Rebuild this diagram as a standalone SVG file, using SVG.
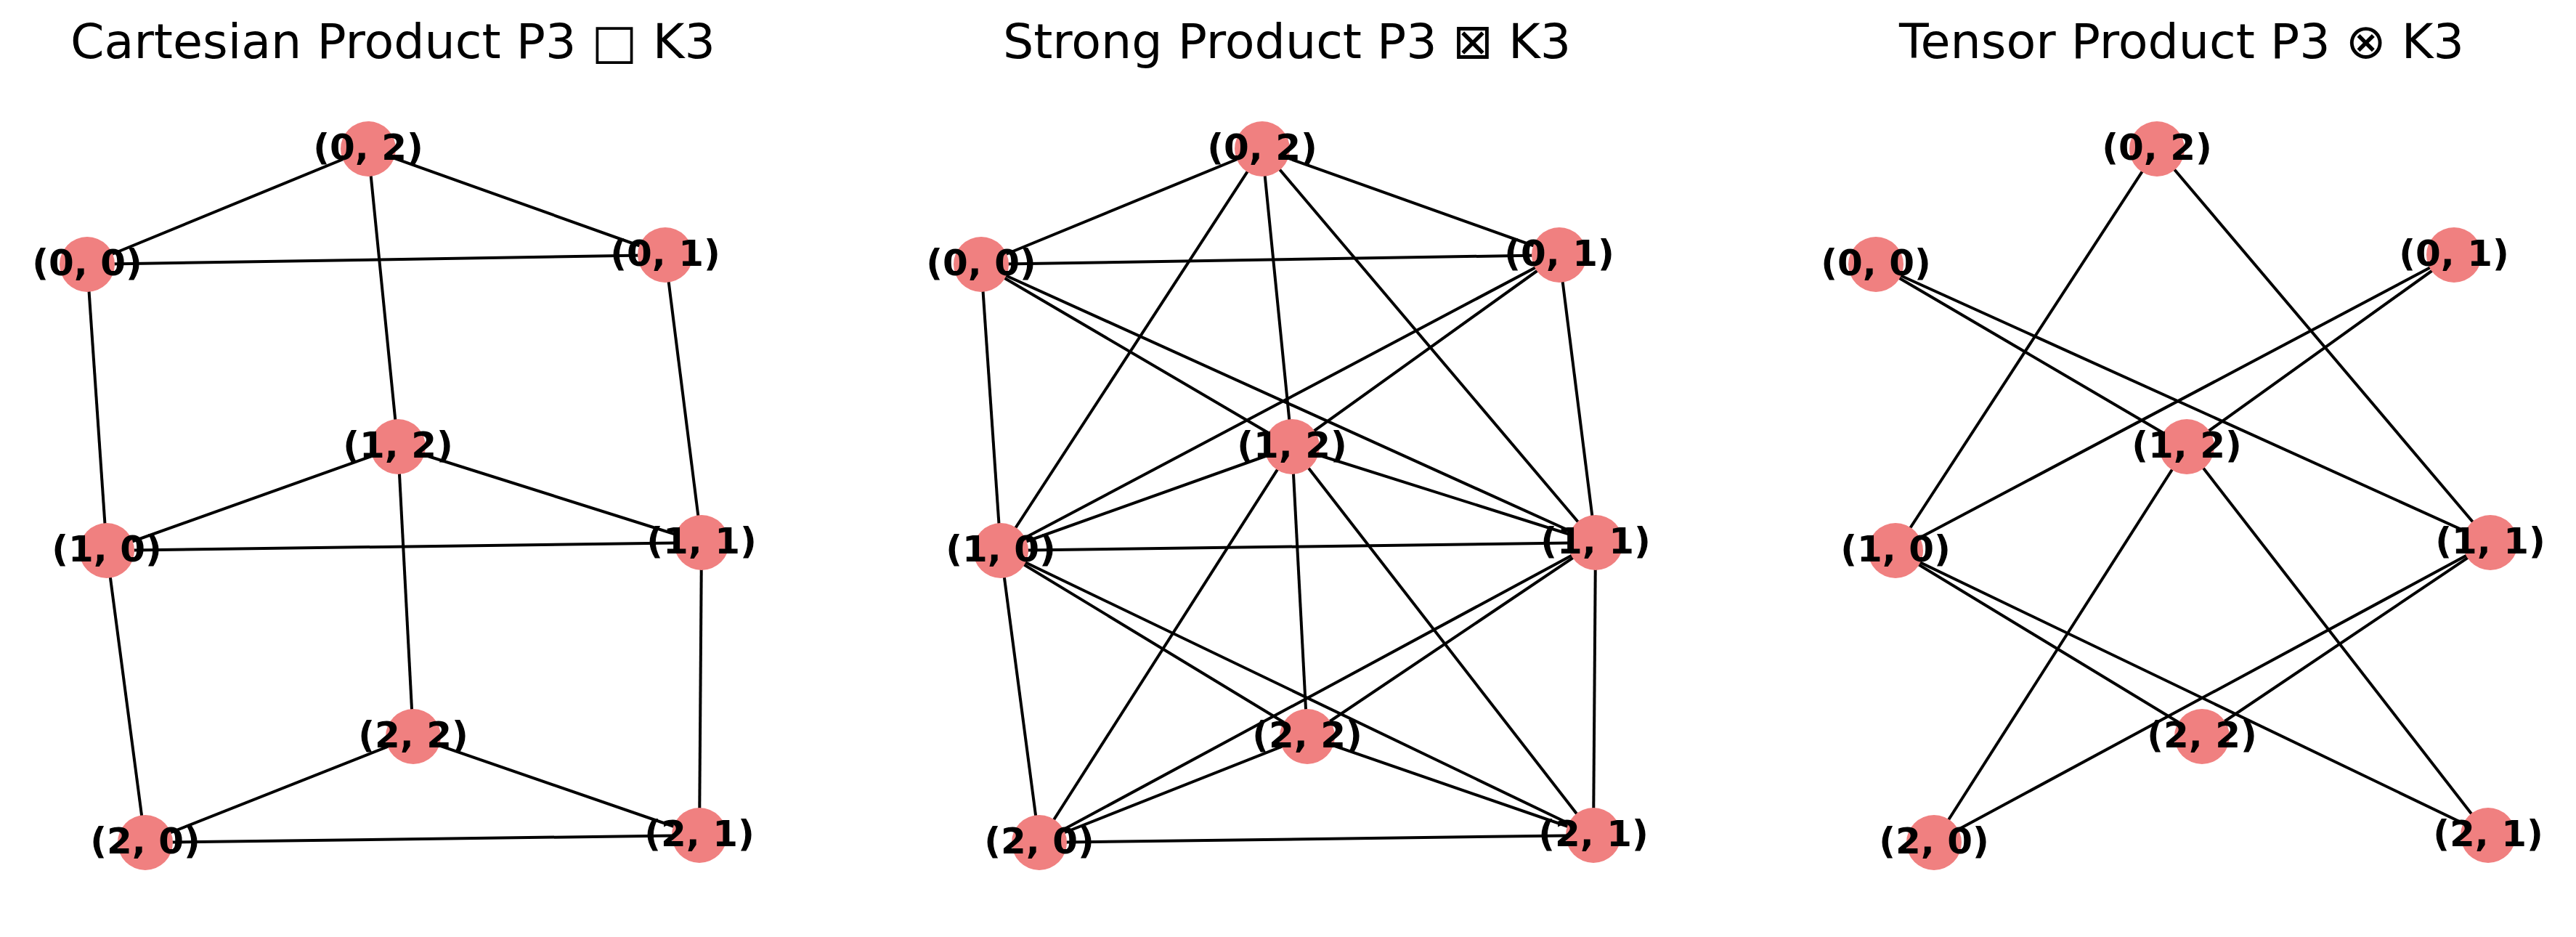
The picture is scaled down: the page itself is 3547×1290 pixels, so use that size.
<svg xmlns="http://www.w3.org/2000/svg" width="3547" height="1290" viewBox="0 0 3547 1290">
<style>
.bg{fill:#fff}
.e{stroke:#000;stroke-width:4;stroke-linecap:butt}
.n circle{fill:#F08080}
.n text{font-family:"DejaVu Sans",sans-serif;font-weight:bold;font-size:50px;text-anchor:middle;fill:#000}
.t{font-family:"DejaVu Sans",sans-serif;font-size:66.67px;text-anchor:middle;fill:#000}
</style>
<rect class="bg" x="0" y="0" width="3547" height="1290"/>

<!-- Panel 1: Cartesian -->
<g id="cartesian">
<text class="t" x="541" y="80">Cartesian Product P3 □ K3</text>
<g id="cartesian-edges">
<line class="e" x1="120" y1="364" x2="916" y2="351"/>
<line class="e" x1="120" y1="364" x2="507" y2="205"/>
<line class="e" x1="916" y1="351" x2="507" y2="205"/>
<line class="e" x1="147" y1="758" x2="966" y2="747"/>
<line class="e" x1="147" y1="758" x2="548" y2="615"/>
<line class="e" x1="966" y1="747" x2="548" y2="615"/>
<line class="e" x1="200" y1="1160" x2="963" y2="1150"/>
<line class="e" x1="200" y1="1160" x2="569" y2="1014"/>
<line class="e" x1="963" y1="1150" x2="569" y2="1014"/>
<line class="e" x1="120" y1="364" x2="147" y2="758"/>
<line class="e" x1="916" y1="351" x2="966" y2="747"/>
<line class="e" x1="507" y1="205" x2="548" y2="615"/>
<line class="e" x1="147" y1="758" x2="200" y2="1160"/>
<line class="e" x1="966" y1="747" x2="963" y2="1150"/>
<line class="e" x1="548" y1="615" x2="569" y2="1014"/>
</g>
<g id="c-0-0" class="n"><circle cx="120" cy="364" r="38"/><text x="120" y="379">(0, 0)</text></g>
<g id="c-0-1" class="n"><circle cx="916" cy="351" r="38"/><text x="916" y="366">(0, 1)</text></g>
<g id="c-0-2" class="n"><circle cx="507" cy="205" r="38"/><text x="507" y="220">(0, 2)</text></g>
<g id="c-1-0" class="n"><circle cx="147" cy="758" r="38"/><text x="147" y="773">(1, 0)</text></g>
<g id="c-1-1" class="n"><circle cx="966" cy="747" r="38"/><text x="966" y="762">(1, 1)</text></g>
<g id="c-1-2" class="n"><circle cx="548" cy="615" r="38"/><text x="548" y="630">(1, 2)</text></g>
<g id="c-2-0" class="n"><circle cx="200" cy="1160" r="38"/><text x="200" y="1175">(2, 0)</text></g>
<g id="c-2-1" class="n"><circle cx="963" cy="1150" r="38"/><text x="963" y="1165">(2, 1)</text></g>
<g id="c-2-2" class="n"><circle cx="569" cy="1014" r="38"/><text x="569" y="1029">(2, 2)</text></g>
</g>

<!-- Panel 2: Strong -->
<g id="strong" transform="translate(1231,0)">
<text class="t" x="541" y="80">Strong Product P3 ⊠ K3</text>
<g id="strong-edges">
<line class="e" x1="120" y1="364" x2="916" y2="351"/>
<line class="e" x1="120" y1="364" x2="507" y2="205"/>
<line class="e" x1="916" y1="351" x2="507" y2="205"/>
<line class="e" x1="147" y1="758" x2="966" y2="747"/>
<line class="e" x1="147" y1="758" x2="548" y2="615"/>
<line class="e" x1="966" y1="747" x2="548" y2="615"/>
<line class="e" x1="200" y1="1160" x2="963" y2="1150"/>
<line class="e" x1="200" y1="1160" x2="569" y2="1014"/>
<line class="e" x1="963" y1="1150" x2="569" y2="1014"/>
<line class="e" x1="120" y1="364" x2="147" y2="758"/>
<line class="e" x1="916" y1="351" x2="966" y2="747"/>
<line class="e" x1="507" y1="205" x2="548" y2="615"/>
<line class="e" x1="147" y1="758" x2="200" y2="1160"/>
<line class="e" x1="966" y1="747" x2="963" y2="1150"/>
<line class="e" x1="548" y1="615" x2="569" y2="1014"/>
<line class="e" x1="120" y1="364" x2="966" y2="747"/>
<line class="e" x1="120" y1="364" x2="548" y2="615"/>
<line class="e" x1="916" y1="351" x2="147" y2="758"/>
<line class="e" x1="916" y1="351" x2="548" y2="615"/>
<line class="e" x1="507" y1="205" x2="147" y2="758"/>
<line class="e" x1="507" y1="205" x2="966" y2="747"/>
<line class="e" x1="147" y1="758" x2="963" y2="1150"/>
<line class="e" x1="147" y1="758" x2="569" y2="1014"/>
<line class="e" x1="966" y1="747" x2="200" y2="1160"/>
<line class="e" x1="966" y1="747" x2="569" y2="1014"/>
<line class="e" x1="548" y1="615" x2="200" y2="1160"/>
<line class="e" x1="548" y1="615" x2="963" y2="1150"/>
</g>
<g id="s-0-0" class="n"><circle cx="120" cy="364" r="38"/><text x="120" y="379">(0, 0)</text></g>
<g id="s-0-1" class="n"><circle cx="916" cy="351" r="38"/><text x="916" y="366">(0, 1)</text></g>
<g id="s-0-2" class="n"><circle cx="507" cy="205" r="38"/><text x="507" y="220">(0, 2)</text></g>
<g id="s-1-0" class="n"><circle cx="147" cy="758" r="38"/><text x="147" y="773">(1, 0)</text></g>
<g id="s-1-1" class="n"><circle cx="966" cy="747" r="38"/><text x="966" y="762">(1, 1)</text></g>
<g id="s-1-2" class="n"><circle cx="548" cy="615" r="38"/><text x="548" y="630">(1, 2)</text></g>
<g id="s-2-0" class="n"><circle cx="200" cy="1160" r="38"/><text x="200" y="1175">(2, 0)</text></g>
<g id="s-2-1" class="n"><circle cx="963" cy="1150" r="38"/><text x="963" y="1165">(2, 1)</text></g>
<g id="s-2-2" class="n"><circle cx="569" cy="1014" r="38"/><text x="569" y="1029">(2, 2)</text></g>
</g>

<!-- Panel 3: Tensor -->
<g id="tensor" transform="translate(2463,0)">
<text class="t" x="541" y="80">Tensor Product P3 ⊗ K3</text>
<g id="tensor-edges">
<line class="e" x1="120" y1="364" x2="966" y2="747"/>
<line class="e" x1="120" y1="364" x2="548" y2="615"/>
<line class="e" x1="916" y1="351" x2="147" y2="758"/>
<line class="e" x1="916" y1="351" x2="548" y2="615"/>
<line class="e" x1="507" y1="205" x2="147" y2="758"/>
<line class="e" x1="507" y1="205" x2="966" y2="747"/>
<line class="e" x1="147" y1="758" x2="963" y2="1150"/>
<line class="e" x1="147" y1="758" x2="569" y2="1014"/>
<line class="e" x1="966" y1="747" x2="200" y2="1160"/>
<line class="e" x1="966" y1="747" x2="569" y2="1014"/>
<line class="e" x1="548" y1="615" x2="200" y2="1160"/>
<line class="e" x1="548" y1="615" x2="963" y2="1150"/>
</g>
<g id="t-0-0" class="n"><circle cx="120" cy="364" r="38"/><text x="120" y="379">(0, 0)</text></g>
<g id="t-0-1" class="n"><circle cx="916" cy="351" r="38"/><text x="916" y="366">(0, 1)</text></g>
<g id="t-0-2" class="n"><circle cx="507" cy="205" r="38"/><text x="507" y="220">(0, 2)</text></g>
<g id="t-1-0" class="n"><circle cx="147" cy="758" r="38"/><text x="147" y="773">(1, 0)</text></g>
<g id="t-1-1" class="n"><circle cx="966" cy="747" r="38"/><text x="966" y="762">(1, 1)</text></g>
<g id="t-1-2" class="n"><circle cx="548" cy="615" r="38"/><text x="548" y="630">(1, 2)</text></g>
<g id="t-2-0" class="n"><circle cx="200" cy="1160" r="38"/><text x="200" y="1175">(2, 0)</text></g>
<g id="t-2-1" class="n"><circle cx="963" cy="1150" r="38"/><text x="963" y="1165">(2, 1)</text></g>
<g id="t-2-2" class="n"><circle cx="569" cy="1014" r="38"/><text x="569" y="1029">(2, 2)</text></g>
</g>
</svg>
